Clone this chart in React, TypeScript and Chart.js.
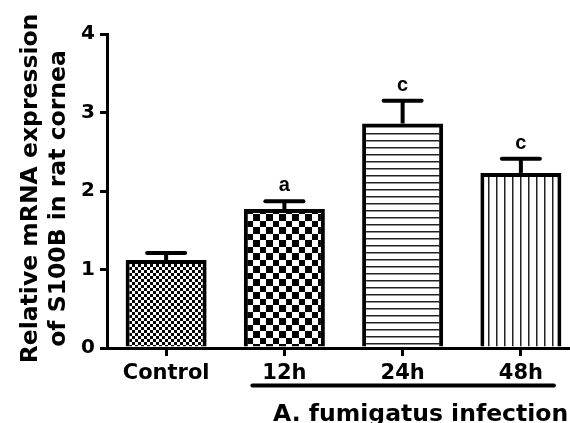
import React, { useEffect, useRef } from "react";
import { Chart, registerables } from "chart.js";

Chart.register(...registerables);

const categories = ["Control", "12h", "24h", "48h"];
const means = [1.12, 1.77, 2.86, 2.23];
const errors = [0.09, 0.1, 0.29, 0.18];
const letters = ["", "a", "c", "c"];
const yTicks = [0, 1, 2, 3, 4];
const yTitleLines = ["Relative mRNA expression", "of S100B in rat cornea"];
const groupLabel = "A. fumigatus infection";

const FONT = '"DejaVu Sans", sans-serif';

function makePattern(kind: string): CanvasPattern | string {
  const c = document.createElement("canvas");
  let w = 6, h = 6;
  if (kind === "fine") { w = 6; h = 6; }
  if (kind === "coarse") { w = 13; h = 13; }
  if (kind === "hlines") { w = 8; h = 7; }
  if (kind === "vlines") { w = 8; h = 8; }
  c.width = w; c.height = h;
  const g = c.getContext("2d")!;
  g.fillStyle = "#fff";
  g.fillRect(0, 0, w, h);
  g.fillStyle = "#000";
  if (kind === "fine") {
    g.fillRect(0, 0, 3, 3);
    g.fillRect(3, 3, 3, 3);
  } else if (kind === "coarse") {
    g.fillRect(0, 0, 6, 6);
    g.fillRect(6, 6, 7, 7);
  } else if (kind === "hlines") {
    g.fillStyle = "#222";
    g.fillRect(0, 0, w, 1.5);
  } else if (kind === "vlines") {
    g.fillStyle = "#222";
    g.fillRect(0, 0, 1.5, h);
  }
  const p = g.createPattern(c, "repeat");
  return p || "#fff";
}

const overlayPlugin = {
  id: "overlay",
  afterDatasetsDraw(chart: any) {
    const ctx = chart.ctx;
    const ys = chart.scales.y;
    const meta = chart.getDatasetMeta(0);
    meta.data.forEach((el: any, i: number) => {
      const x = el.x;
      const top = ys.getPixelForValue(means[i]);
      const capY = ys.getPixelForValue(means[i] + errors[i]);
      ctx.save();
      ctx.strokeStyle = "#000";
      ctx.lineWidth = 4;
      ctx.lineCap = "butt";
      ctx.beginPath();
      ctx.moveTo(x, top);
      ctx.lineTo(x, capY);
      ctx.stroke();
      ctx.lineCap = "round";
      ctx.beginPath();
      ctx.moveTo(x - 19, capY);
      ctx.lineTo(x + 19, capY);
      ctx.stroke();
      if (letters[i]) {
        ctx.fillStyle = "#000";
        ctx.font = 'bold 20px "Liberation Sans", sans-serif';
        ctx.textAlign = "center";
        ctx.textBaseline = "alphabetic";
        ctx.fillText(letters[i], x, capY - 10);
      }
      ctx.restore();
    });
  },
  afterDraw(chart: any) {
    const ctx = chart.ctx;
    const area = chart.chartArea;
    const xs = chart.scales.x;
    const midY = (area.top + area.bottom) / 2;
    ctx.save();
    ctx.fillStyle = "#000";
    ctx.font = "bold 23.5px " + FONT;
    ctx.textAlign = "center";
    ctx.textBaseline = "alphabetic";
    const baselines = [37, 65];
    const offsets = [-2.5, 7.5];
    yTitleLines.forEach((t, i) => {
      ctx.save();
      ctx.translate(baselines[i], midY + offsets[i]);
      ctx.rotate(-Math.PI / 2);
      ctx.fillText(t, 0, 0);
      ctx.restore();
    });
    const x1 = xs.getPixelForValue(1) - 32;
    const x2 = xs.getPixelForValue(3) + 33;
    ctx.strokeStyle = "#000";
    ctx.lineWidth = 4;
    ctx.lineCap = "round";
    ctx.beginPath();
    ctx.moveTo(x1, 385.5);
    ctx.lineTo(x2, 385.5);
    ctx.stroke();
    ctx.font = "bold 23.5px " + FONT;
    ctx.textAlign = "center";
    ctx.fillText(groupLabel, xs.getPixelForValue(2) + 18, 421);
    ctx.restore();
  },
};

export default function App() {
  const ref = useRef<HTMLCanvasElement | null>(null);
  useEffect(() => {
    if (!ref.current) return;
    const patterns = [
      makePattern("fine"),
      makePattern("coarse"),
      makePattern("hlines"),
      makePattern("vlines"),
    ];
    const chart = new Chart(ref.current, {
      type: "bar",
      data: {
        labels: categories,
        datasets: [
          {
            data: means,
            backgroundColor: patterns as any,
            borderColor: "#000",
            borderWidth: 4,
            borderSkipped: "start",
            barPercentage: 0.685,
            categoryPercentage: 1,
          },
        ],
      },
      options: {
        responsive: false,
        animation: false,
        devicePixelRatio: 1,
        layout: { padding: { top: 34, left: 0, right: 0, bottom: 0 }, autoPadding: false },
        plugins: { legend: { display: false }, tooltip: { enabled: false }, title: { display: false } },
        scales: {
          x: {
            type: "category",
            offset: true,
            grid: {
              display: true,
              offset: false,
              drawOnChartArea: false,
              drawTicks: true,
              tickLength: 8,
              lineWidth: 3,
              color: "#000",
            },
            border: { display: true, width: 3, color: "#000" },
            ticks: {
              color: "#000",
              font: { family: FONT, size: 21, weight: "bold" },
              padding: 5,
              maxRotation: 0,
            },
            afterFit(scale: any) {
              scale.height = 75;
            },
          },
          y: {
            type: "linear",
            min: 0,
            max: 4,
            afterBuildTicks(scale: any) {
              scale.ticks = yTicks.map((v) => ({ value: v }));
            },
            grid: {
              display: true,
              drawOnChartArea: false,
              drawTicks: true,
              tickLength: 7,
              lineWidth: 3,
              color: "#000",
            },
            border: { display: true, width: 3, color: "#000" },
            ticks: {
              color: "#000",
              font: { family: FONT, size: 20, weight: "bold" },
              padding: 5,
            },
            afterFit(scale: any) {
              scale.width = 107;
            },
          },
        },
      },
      plugins: [overlayPlugin],
    } as any);
    return () => chart.destroy();
  }, []);
  return (
    <div
      style={{
        position: "fixed",
        left: 0,
        top: 0,
        width: 570,
        height: 423,
        overflow: "hidden",
        background: "#fff",
      }}
    >
      <canvas ref={ref} width={580} height={423} style={{ width: 580, height: 423, display: "block" }} />
    </div>
  );
}
